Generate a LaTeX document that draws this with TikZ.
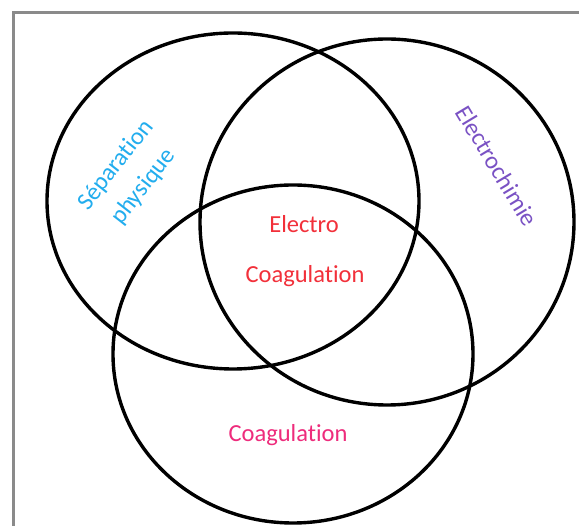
\documentclass[tikz,border=0pt]{standalone}
\usepackage{fontspec}
\setmainfont[Ligatures=NoCommon]{Carlito}
\definecolor{sepblue}{HTML}{22ADEE}
\definecolor{elpurple}{HTML}{7A52C4}
\definecolor{ecred}{HTML}{F2303A}
\definecolor{coapink}{HTML}{EE2C7C}
\definecolor{framegray}{HTML}{8A8A8A}
\begin{document}
\begin{tikzpicture}[x=1pt,y=-1pt,
    setring/.style={line width=3.4pt,black},
    lbl/.style={font=\fontsize{24.5}{40}\selectfont,inner sep=0pt,align=center}]
  \useasboundingbox[fill=white] (0,0) rectangle (579,526);
  % frame: only the top and left sides are visible
  \draw[framegray,line width=3pt] (13,526) -- (13,13) -- (579,13);
  % the three sets
  \draw[setring] (233,201) ellipse [x radius=186pt, y radius=168pt];
  \draw[setring] (387,222) ellipse [x radius=187pt, y radius=183pt];
  \draw[setring] (293,354) ellipse [x radius=180pt, y radius=169pt];
  % labels
  \node[lbl,text=sepblue,rotate=52] (sep) at (130,176) {Séparation\\[-5pt]physique};
  \node[lbl,text=elpurple,rotate=-59] (elec) at (497,166) {Electrochimie};
  \node[lbl,text=ecred,anchor=base] (ec1) at (304,233) {Electro};
  \node[lbl,text=ecred,anchor=base] (ec2) at (305,283) {Coagulation};
  \node[lbl,text=coapink,anchor=base] (coa) at (288,442) {Coagulation};
\end{tikzpicture}
\end{document}
